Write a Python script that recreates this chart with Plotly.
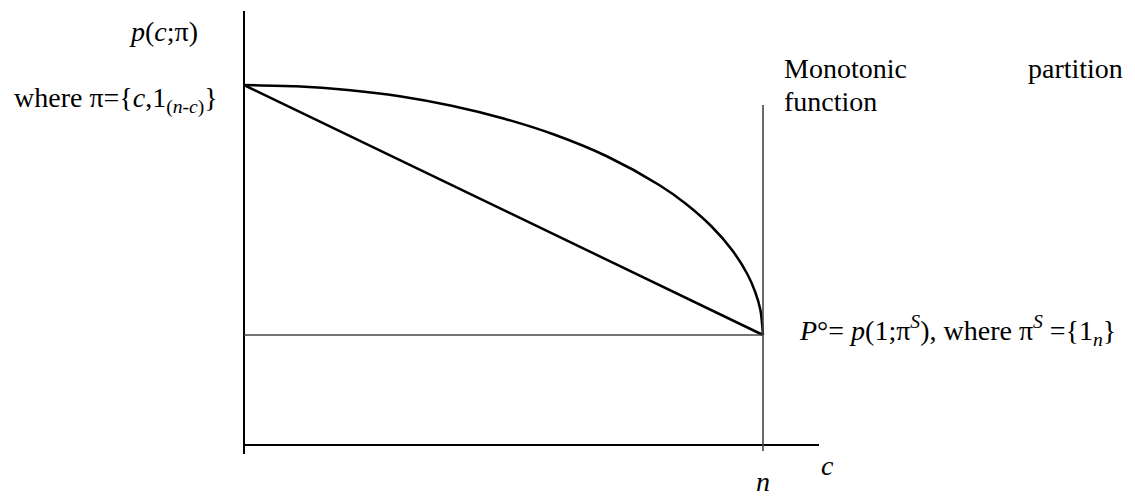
import plotly.graph_objects as go

# ---- data (normalized units: c from 0 to n=1, p from P°=0 to p(c;π) max = 1) ----
n_value = 1.0
curve_c = [0.0, 0.1, 0.2, 0.3, 0.4, 0.5, 0.6, 0.7, 0.8, 0.85, 0.9, 0.94, 0.97, 0.985, 0.995, 1.0]
curve_p = [1.0, 0.995, 0.98, 0.955, 0.917, 0.866, 0.80, 0.714, 0.60, 0.527, 0.436, 0.341, 0.243, 0.172, 0.10, 0.0]
chord_c = [0.0, 1.0]
chord_p = [1.0, 0.0]
p_star = 0.0

W, H = 1135, 497
OFF = 8  # page body margin offset
# pixel mapping (page px): c=0 -> x=244, c=1 -> x=763 ; p=1 -> y=85, p=0 -> y=335
x0_px, x1_px = 244 - OFF, 763 - OFF
y1_px, y0_px = 85 - OFF, 335 - OFF
sx = (x1_px - x0_px)
sy = (y0_px - y1_px)
xrange = [-x0_px / sx, (W - x0_px) / sx]
yrange = [(y0_px - H) / sy, y0_px / sy]

def dx(px):
    return (px - OFF - x0_px) / sx

def dy(py):
    return (y0_px - (py - OFF)) / sy

fig = go.Figure()
fig.add_trace(go.Scatter(x=curve_c, y=curve_p, mode="lines",
                         line=dict(color="black", width=2.5, shape="spline", smoothing=0.8),
                         hoverinfo="skip", showlegend=False))
fig.add_trace(go.Scatter(x=chord_c, y=chord_p, mode="lines",
                         line=dict(color="black", width=2.5),
                         hoverinfo="skip", showlegend=False))

shapes = [
    dict(type="line", x0=0, x1=0, y0=dy(454), y1=dy(11), line=dict(color="black", width=2)),
    dict(type="line", x0=0, x1=dx(819), y0=dy(445), y1=dy(445), line=dict(color="black", width=2)),
    dict(type="line", x0=n_value, x1=n_value, y0=dy(451), y1=dy(105), line=dict(color="#444", width=1.6)),
    dict(type="line", x0=0, x1=n_value, y0=p_star, y1=p_star, line=dict(color="#444", width=1.6)),
]

font = dict(family="Liberation Serif, Times New Roman, serif", size=28, color="black")

def ann(text, x_px, y_px, xanchor="left"):
    return dict(text=text, x=dx(x_px), y=dy(y_px), xref="x", yref="y",
                xanchor=xanchor, yanchor="middle", showarrow=False, font=font)

annotations = [
    ann("<i>p</i>(<i>c</i>;π)", 127, 31),
    ann("where π={<i>c</i>,1<sub>(<i>n-c</i>)</sub>}", 12, 100),
    ann("Monotonic", 782, 68),
    ann("partition", 1125, 68, xanchor="right"),
    ann("function", 782, 101),
    ann("<i>P</i>°= <i>p</i>(1;π<sup><i>S</i></sup>), where π<sup><i>S</i></sup> ={1<sub><i>n</i></sub>}", 797, 330),
    ann("<i>c</i>", 827, 465, xanchor="center"),
    ann("<i>n</i>", 763, 481, xanchor="center"),
]

fig.update_layout(
    width=W, height=H,
    margin=dict(l=0, r=0, t=0, b=0),
    paper_bgcolor="white", plot_bgcolor="white",
    xaxis=dict(range=xrange, visible=False, fixedrange=True),
    yaxis=dict(range=yrange, visible=False, fixedrange=True),
    shapes=shapes, annotations=annotations,
    showlegend=False,
)

fig.write_html("out.html", config={"displayModeBar": False})
